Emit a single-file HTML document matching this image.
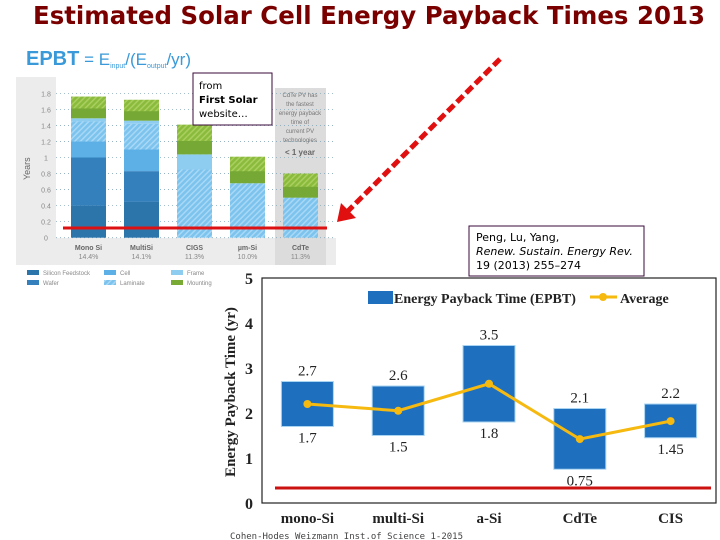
<!DOCTYPE html>
<html><head><meta charset="utf-8"><style>
html,body{margin:0;padding:0;background:#fff;width:720px;height:540px;overflow:hidden}
svg{display:block}
text{font-family:"Liberation Sans",sans-serif}
.serif{font-family:"Liberation Serif",serif}
</style></head><body>
<svg id="s" width="720" height="540" viewBox="0 0 720 540" xmlns="http://www.w3.org/2000/svg">
<defs>
<pattern id="hatch" width="4" height="4" patternUnits="userSpaceOnUse" patternTransform="rotate(45)">
<rect width="4" height="4" fill="#7cc3ee"/><rect width="1.5" height="4" fill="#a8d8f5"/></pattern>
<pattern id="ghatch" width="4" height="4" patternUnits="userSpaceOnUse" patternTransform="rotate(45)">
<rect width="4" height="4" fill="#8bbb3c"/><rect width="1.5" height="4" fill="#a9cf60"/></pattern>
</defs>
<text x="33" y="24" font-size="25" font-weight="bold" fill="#7a0000" textLength="672" lengthAdjust="spacingAndGlyphs" style="font-family:'DejaVu Sans',sans-serif">Estimated Solar Cell Energy Payback Times 2013</text>

<g id="top">
<text x="26" y="65" font-size="20" font-weight="bold" fill="#3a9ad9">EPBT<tspan font-weight="normal" font-size="17"> = E</tspan><tspan font-size="7" font-weight="normal" dy="3">input</tspan><tspan font-weight="normal" font-size="17" dy="-3">/(E</tspan><tspan font-size="7" font-weight="normal" dy="3">output</tspan><tspan font-weight="normal" font-size="17" dy="-3">/yr)</tspan></text>
<rect x="16" y="77" width="320" height="188" fill="#ececec"/>
<rect x="56" y="77" width="280" height="161" fill="#fff"/>
<rect x="275" y="88" width="51" height="177" fill="#dcdcdc"/>
<text x="26" y="176" font-size="9" fill="#666" transform="rotate(-90 30 176)">Years</text>
<g id="topGrid"></g><g id="topBars"></g>
<text font-size="6" fill="#777" text-anchor="middle"><tspan x="300" y="97">CdTe PV has</tspan><tspan x="300" y="106">the fastest</tspan><tspan x="300" y="115">energy payback</tspan><tspan x="300" y="124">time of</tspan><tspan x="300" y="133">current PV</tspan><tspan x="300" y="142">technologies</tspan></text>
<text x="300" y="155" font-size="8" font-weight="bold" fill="#666" text-anchor="middle">&lt; 1 year</text>
<g id="legendTop"></g>
<rect x="193" y="73" width="79" height="52" fill="#fff" stroke="#3a0a3a" stroke-width="1"/>
<text x="199" y="89" font-size="10" style="font-family:'DejaVu Sans',sans-serif"><tspan>from</tspan><tspan x="199" dy="14" font-weight="bold">First Solar</tspan><tspan x="199" dy="14">website…</tspan></text>
<line x1="63" y1="228" x2="327" y2="228" stroke="#d11" stroke-width="3"/>
</g>

<line x1="500" y1="59" x2="346" y2="213" stroke="#e01010" stroke-width="5" stroke-dasharray="9,4"/>
<polygon points="337,222 341,203 356,218" fill="#e01010"/>

<rect x="469" y="226" width="175" height="50" fill="#fff" stroke="#3a0a3a"/>
<text x="476" y="241" font-size="11" style="font-family:'DejaVu Sans',sans-serif"><tspan>Peng, Lu, Yang,</tspan><tspan x="476" dy="14" font-style="italic">Renew. Sustain. Energy Rev.</tspan><tspan x="476" dy="14">19 (2013) 255–274</tspan></text>

<g id="bot">
<rect x="262" y="278" width="454" height="225" fill="#fff" stroke="#222" stroke-width="1.2"/>
<text class="serif" x="235" y="392" font-size="15" font-weight="bold" fill="#222" text-anchor="middle" transform="rotate(-90 235 392)">Energy Payback Time (yr)</text>
<g id="botMarks"></g>
<rect x="368" y="291" width="25" height="13" fill="#1f6fbf"/>
<text class="serif" x="394" y="303" font-size="14" font-weight="bold" fill="#222">Energy Payback Time (EPBT)</text>
<line x1="590" y1="297" x2="617" y2="297" stroke="#f5b90f" stroke-width="3"/>
<circle cx="603" cy="297" r="4" fill="#f5b90f"/>
<text class="serif" x="620" y="303" font-size="14" font-weight="bold" fill="#222">Average</text>
<line x1="275" y1="488" x2="711" y2="488" stroke="#cc1111" stroke-width="3"/>
</g>
<text x="230" y="539" font-size="9" fill="#444" style="font-family:'DejaVu Sans Mono',monospace">Cohen-Hodes Weizmann Inst.of Science 1-2015</text>
</svg>
<script>
const NS="http://www.w3.org/2000/svg";
function mk(p,t,a,txt){const e=document.createElementNS(NS,t);for(const k in a)e.setAttribute(k,a[k]);if(txt!==undefined)e.textContent=txt;p.appendChild(e);return e;}

// ---- top chart data ----
const topCats=["Mono Si","MultiSi","CIGS","µm-Si","CdTe"];
const topEff=["14.4%","14.1%","11.3%","10.0%","11.3%"];
const feedstock=[0.4,0.45,0,0,0];
const wafer=[0.6,0.38,0,0,0];
const cell=[0.2,0.27,0,0,0];
const laminate=[0.25,0.32,0.85,0.68,0.5];
const frame=[0.04,0.04,0.19,0,0];
const mounting=[0.27,0.26,0.37,0.33,0.3];
const topTicks=[0,0.2,0.4,0.6,0.8,1,1.2,1.4,1.6,1.8];
const compNames=["Silicon Feedstock","Wafer","Cell","Laminate","Frame","Mounting"];

const ty=v=>237.7-80.2*v;
const tx=i=>71+i*53;
const tg=document.getElementById('topGrid');
topTicks.forEach(v=>{
  const l=mk(tg,'line',{x1:56,x2:336,y1:ty(v),y2:ty(v),stroke:'#8ab',"stroke-width":0.8,"stroke-dasharray":"1,3"});
  
  
  const t=mk(tg,'text',{x:46,y:ty(v)+3,"font-size":7,fill:'#888',"text-anchor":"middle"},String(v));
  
  
});
const series=[feedstock,wafer,cell,laminate,frame,mounting];
const fills=["#2c75ab","#3480bd","#5cb0e6","url(#hatch)","#8fcdf0","url(#ghatch)"];
const tb=document.getElementById('topBars');
topCats.forEach((c,i)=>{
  let base=0;
  series.forEach((s,k)=>{
    const v=s[i]; if(v<=0) return;
    const r=mk(tb,'rect',{x:tx(i),width:35,y:ty(base+v),height:ty(base)-ty(base+v),fill:fills[k]});
    
    
    if(k===5){const r2=mk(tb,'rect',{x:tx(i),width:35,y:ty(base+v*0.45),height:ty(base)-ty(base+v*0.45),fill:'#76a836'});
      
      }
    base+=v;
  });
  const t=mk(tb,'text',{x:tx(i)+17.5,y:250,"font-size":7,"font-weight":"bold",fill:'#666',"text-anchor":"middle"},c);
  
  
  const t2=mk(tb,'text',{x:tx(i)+17.5,y:259,"font-size":7,fill:'#888',"text-anchor":"middle"},topEff[i]);
  
  
});
const lt=document.getElementById('legendTop');
const legFill=["#2c75ab","#3480bd","#5cb0e6","url(#hatch)","#8fcdf0","#7aaa36"];
const lorder=[[0,27,275],[1,27,285],[2,104,275],[3,104,285],[4,171,275],[5,171,285]];
lorder.forEach(([k,x,y])=>{
  const r=mk(lt,'rect',{x:x,y:y-5,width:12,height:5,fill:legFill[k]});
  
  
  const t=mk(lt,'text',{x:x+16,y:y,"font-size":6,fill:'#888'},compNames[k]);
  
  
});

// ---- bottom chart data ----
const cats=["mono-Si","multi-Si","a-Si","CdTe","CIS"];
const epbtLow=[1.7,1.5,1.8,0.75,1.45];
const epbtHigh=[2.7,2.6,3.5,2.1,2.2];
const lowLabels=["1.7","1.5","1.8","0.75","1.45"];
const highLabels=["2.7","2.6","3.5","2.1","2.2"];
const avg=[2.2,2.05,2.65,1.42,1.82];
const yTicks=[0,1,2,3,4,5];

const by=v=>503-45*v;
const bx=i=>262+454/5*(i+0.5);
const bm=document.getElementById('botMarks');
yTicks.forEach(v=>{
  const t=mk(bm,'text',{x:249,y:by(v)+6,"font-size":16,"font-weight":"bold",fill:'#222',"text-anchor":"middle",class:"serif"},String(v));
  
  
});
cats.forEach((c,i)=>{
  const r=mk(bm,'rect',{x:bx(i)-26,width:52,y:by(epbtHigh[i]),height:by(epbtLow[i])-by(epbtHigh[i]),fill:'#1f6fbf',stroke:'#a9d4f2',"stroke-width":1});
  
  
  const h=mk(bm,'text',{x:bx(i),y:by(epbtHigh[i])-6,"font-size":15,fill:'#222',"text-anchor":"middle",class:"serif"},highLabels[i]);
  
  
  const l=mk(bm,'text',{x:bx(i),y:by(epbtLow[i])+16,"font-size":15,fill:'#222',"text-anchor":"middle",class:"serif"},lowLabels[i]);
  
  
  const c2=mk(bm,'text',{x:bx(i),y:523,"font-size":15,"font-weight":"bold",fill:'#222',"text-anchor":"middle",class:"serif"},c);
  
  
});
const pts=avg.map((v,i)=>bx(i)+','+by(v)).join(' ');
const pl=mk(bm,'polyline',{points:pts,fill:'none',stroke:'#f5b90f',"stroke-width":3});


avg.forEach((v,i)=>{
  const p=mk(bm,'circle',{cx:bx(i),cy:by(v),r:4,fill:'#f5b90f'});
  
  
});
</script>
</body></html>
